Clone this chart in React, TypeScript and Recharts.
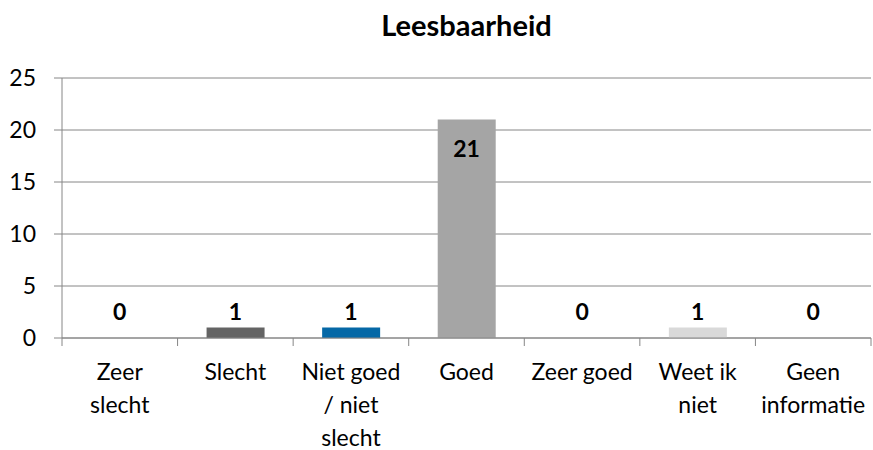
import { Bar, CartesianGrid, Cell, ComposedChart, Scatter, XAxis, YAxis } from "recharts";

const categories = [
  "Zeer slecht",
  "Slecht",
  "Niet goed / niet slecht",
  "Goed",
  "Zeer goed",
  "Weet ik niet",
  "Geen informatie",
];
const tickLines = [
  ["Zeer", "slecht"],
  ["Slecht"],
  ["Niet goed", "/ niet", "slecht"],
  ["Goed"],
  ["Zeer goed"],
  ["Weet ik", "niet"],
  ["Geen", "informatie"],
];
const counts = [0, 1, 1, 21, 0, 1, 0];
const barColors = ["#5f5f5f", "#646464", "#0568a6", "#a5a5a5", "#a5a5a5", "#d9d9d9", "#a5a5a5"];
const yTicks = [0, 5, 10, 15, 20, 25];

const data = categories.map((name, i) => ({ name, value: counts[i] }));

const FONT = "Lato, 'Open Sans', sans-serif";
const W = 873;
const H = 450;
const MARGIN = { top: 78, right: 2, left: 0, bottom: 0 };
const Y_AXIS_W = 62;
const X_AXIS_H = 112;
const AXIS_COLOR = "#868686";
const BAND = (W - MARGIN.left - MARGIN.right - Y_AXIS_W) / categories.length;

function CategoryTick(props: any) {
  const { x, y, index } = props;
  const lines = tickLines[index] ?? [];
  const last = index === categories.length - 1;
  const axisY = y - 2;
  return (
    <g>
      <line x1={x - BAND / 2} x2={x - BAND / 2} y1={axisY} y2={axisY + 8} stroke={AXIS_COLOR} />
      {last ? (
        <line x1={x + BAND / 2} x2={x + BAND / 2} y1={axisY} y2={axisY + 8} stroke={AXIS_COLOR} />
      ) : null}
      <text x={x} y={axisY + 42} textAnchor="middle" fontFamily={FONT} fontSize={23} fill="#000">
        {lines.map((line, i) => (
          <tspan key={i} x={x} dy={i === 0 ? 0 : 33}>
            {line}
          </tspan>
        ))}
      </text>
    </g>
  );
}

// value labels: above short bars (at a fixed offset from the baseline), inside the top of tall bars
function ValueLabel(props: any) {
  const { cx, cy, payload } = props;
  if (cx === undefined || cy === undefined || !payload) return <g />;
  const baseY = MARGIN.top + (H - MARGIN.top - MARGIN.bottom - X_AXIS_H);
  const tall = baseY - cy > 40;
  const ly = tall ? cy + 28 : baseY - 27;
  return (
    <text
      x={cx}
      y={ly}
      textAnchor="middle"
      dominantBaseline="central"
      fontFamily={FONT}
      fontWeight="bold"
      fontSize={23}
      fill="#000"
    >
      {payload.value}
    </text>
  );
}

export default function App() {
  return (
    <div style={{ position: "absolute", left: 0, top: 0, width: W, height: H, background: "#fff" }}>
      <div
        style={{
          position: "absolute",
          left: MARGIN.left + Y_AXIS_W,
          right: MARGIN.right,
          top: 7,
          textAlign: "center",
          fontFamily: FONT,
          fontWeight: "bold",
          fontSize: 29,
          color: "#000",
        }}
      >
        Leesbaarheid
      </div>
      <ComposedChart width={W} height={H} data={data} margin={MARGIN} barSize={58}>
        <CartesianGrid stroke={AXIS_COLOR} vertical={false} />
        <XAxis
          dataKey="name"
          height={X_AXIS_H}
          interval={0}
          axisLine={{ stroke: AXIS_COLOR }}
          tickLine={false}
          tickSize={0}
          tickMargin={2}
          tick={<CategoryTick />}
        />
        <YAxis
          width={Y_AXIS_W}
          domain={[0, 25]}
          ticks={yTicks}
          interval={0}
          axisLine={{ stroke: AXIS_COLOR }}
          tickLine={{ stroke: AXIS_COLOR }}
          tickSize={8}
          tickMargin={18}
          tick={{ fill: "#000", fontSize: 23, fontFamily: FONT }}
        />
        <Bar dataKey="value" isAnimationActive={false}>
          {data.map((d, i) => (
            <Cell key={d.name} fill={barColors[i]} />
          ))}
        </Bar>
        <Scatter dataKey="value" isAnimationActive={false} shape={(p: any) => <ValueLabel {...p} />} />
      </ComposedChart>
    </div>
  );
}
